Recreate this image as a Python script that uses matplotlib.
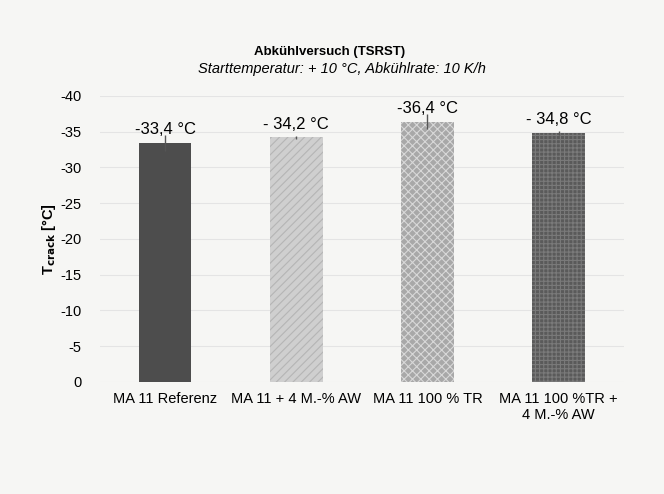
import matplotlib as mpl
import matplotlib.pyplot as plt
import numpy as np

mpl.rcParams['font.family'] = ['Liberation Sans', 'DejaVu Sans']
mpl.rcParams['font.size'] = 10
mpl.rcParams['hatch.linewidth'] = 0.8

categories = ['MA 11 Referenz', 'MA 11 + 4 M.-% AW', 'MA 11 100 % TR', 'MA 11 100 %TR +\n4 M.-% AW']
t_crack = [-33.4, -34.2, -36.4, -34.8]
t_err = [1.1, 0.2, 1.0, 0.3]
value_labels = ['-33,4 °C', '- 34,2 °C', '-36,4 °C', '- 34,8 °C']
yticks = [0, -5, -10, -15, -20, -25, -30, -35, -40]

facecolors = ['#4d4d4d', '#cfcfcf', '#a8a8a8', '#5a5a5a']
hatchcolors = ['#3f3f3f', '#b5b5b5', '#d8d8d8', '#7a7a7a']
hatches = ['', '////', 'xxxx', '++++']

bg = '#f6f6f4'
fig = plt.figure(figsize=(6.64, 4.94), dpi=100, facecolor=bg)
ax = fig.add_axes([0.15, 0.227, 0.79, 0.579])
ax.set_facecolor(bg)

x = np.arange(len(categories))
bars = ax.bar(x, t_crack, width=0.4, color=facecolors, edgecolor='none', zorder=2)
for b, h, hc in zip(bars, hatches, hatchcolors):
    b.set_hatch(h)
    b._hatch_color = mpl.colors.to_rgba(hc)
ax.errorbar(x, t_crack, yerr=t_err, fmt='none', ecolor='#555555', elinewidth=1.0, capsize=0, zorder=3)

for xi, v, lab in zip(x, t_crack, value_labels):
    ax.annotate(lab, (xi, v), xytext=(0, 4), textcoords='offset points',
                ha='center', va='bottom', fontsize=12, zorder=4)

ax.set_ylim(0, -40)
ax.set_yticks(yticks)
ax.set_yticklabels([str(t) for t in yticks], fontsize=10.5)
ax.set_xlim(-0.5, len(categories) - 0.5)
ax.set_xticks(x)
ax.set_xticklabels(categories, fontsize=10.5)
ax.tick_params(length=0)
ax.tick_params(axis='y', pad=13)
ax.tick_params(axis='x', pad=7)
ax.grid(axis='y', color='#e4e4e4', linewidth=0.8, zorder=0)
for s in ax.spines.values():
    s.set_visible(False)

ax.set_ylabel('T$_{\\mathbf{crack}}$ [°C]', fontweight='bold', fontsize=10.5, labelpad=2)

fig.text(0.497, 0.894, 'Abkühlversuch (TSRST)', ha='center', va='center', fontweight='bold', fontsize=9.5)
fig.text(0.515, 0.861, 'Starttemperatur: + 10 °C, Abkühlrate: 10 K/h', ha='center', va='center',
         style='italic', fontsize=10.5)

fig.savefig('out.png', dpi=100, facecolor=fig.get_facecolor())
